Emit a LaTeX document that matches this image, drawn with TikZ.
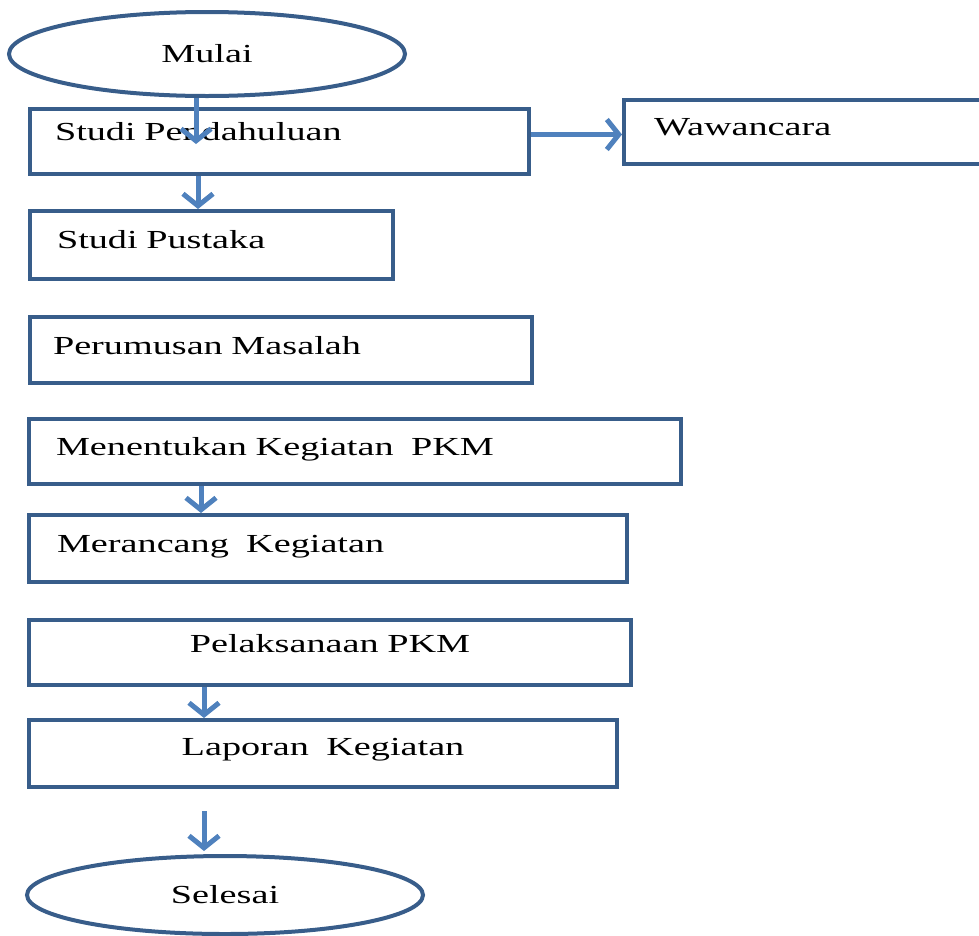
\documentclass[tikz,border=0pt]{standalone}
\usepackage{fontspec}
\setmainfont{Liberation Serif}[FakeStretch=1.47]
\usetikzlibrary{positioning,shapes,arrows.meta}
\definecolor{boxblue}{RGB}{56,93,138}
\definecolor{arrowblue}{RGB}{79,129,189}

\begin{document}
\begin{tikzpicture}[x=1pt, y=-1pt,
	box/.style={draw=boxblue, line width=4pt, anchor=north west, inner xsep=27pt, inner ysep=0pt, align=left, font=\fontsize{26}{31}\selectfont},
	oval/.style={ellipse, draw=boxblue, line width=4pt, inner sep=0pt, minimum width=396pt, font=\fontsize{26}{31}\selectfont}]
		\useasboundingbox (0,0) rectangle (979,935);
		% start / end
		\node[oval, minimum height=84pt] (mulai) at (207,54) {Mulai};
		\node[oval, minimum height=78pt] (selesai) at (225,895) {Selesai};
		% steps
		\node[box, inner xsep=25pt, text width=449pt, text height=31pt, text depth=34pt] (pdh) at (28,107) {Studi Pendahuluan};
		\node[box, inner xsep=30pt, text width=308pt, text height=35pt, text depth=29pt] (waw) at (622,98) {Wawancara};
		\node[box, text width=309pt, text height=37pt, text depth=31pt] (pustaka) at (28,209) {Studi Pustaka};
		\node[box, inner xsep=23pt, text width=456pt, text height=37pt, text depth=29pt] (perum) at (28,315) {Perumusan Masalah};
		\node[box, inner xsep=27pt, text width=598pt, text height=36pt, text depth=29pt] (menent) at (27,417) {Menentukan Kegiatan\ \ PKM};
		\node[box, inner xsep=28pt, text width=542pt, text height=37pt, text depth=30pt] (meranc) at (27,513) {Merancang\ \ Kegiatan};
		\node[box, align=center, text width=548pt, text height=32pt, text depth=33pt] (pelak) at (27,618) {Pelaksanaan PKM};
		\node[box, align=center, text width=534pt, text height=35pt, text depth=32pt] (lapor) at (27,718) {Laporan\ \ Kegiatan};
		% arrows
		\begin{scope}[every path/.style={draw=arrowblue, line width=5pt, -{Straight Barb[length=12pt, width=30pt]}}]
			\draw ([xshift=-11pt]mulai.south) -- ++(0,46);
			\draw ([xshift=170pt]pdh.south west) -- ([xshift=170pt]pustaka.north west);
			\draw ([yshift=7pt]pdh.east) -- ([yshift=7pt]pdh.east -| waw.west);
			\draw ([xshift=174pt]menent.south west) -- ([xshift=174pt]meranc.north west);
			\draw ([xshift=177pt]pelak.south west) -- ([xshift=177pt]lapor.north west);
			\draw ([xshift=177pt,yshift=-22pt]lapor.south west) -- ([xshift=-21pt,yshift=3pt]selesai.north);
		\end{scope}
	\end{tikzpicture}
\end{document}
